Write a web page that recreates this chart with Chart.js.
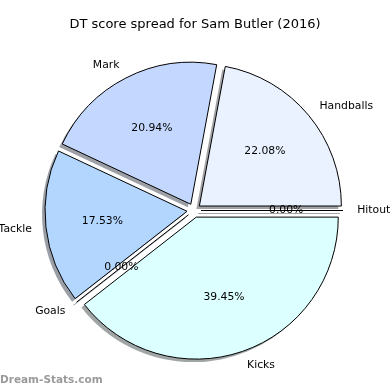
<!DOCTYPE html>
<html><head><meta charset="utf-8">
<script src="https://cdn.jsdelivr.net/npm/chart.js@4/dist/chart.umd.min.js"></script>
<style>html,body{margin:0;padding:0;background:#fff}canvas{display:block}</style>
</head><body>
<canvas id="c" width="390" height="390"></canvas>
<script>
// Data (matplotlib order: counter-clockwise from 3 o'clock)
const categories = ['Handballs', 'Mark', 'Tackle', 'Goals', 'Kicks', 'Hitout'];
const values = [22.08, 20.94, 17.53, 0.00, 39.45, 0.00];
const colours = ['#eaf1ff', '#c4d8ff', '#b3d6ff', '#b3d6ff', '#dcffff', '#eaf1ff'];
const titleText = 'DT score spread for Sam Butler (2016)';
const watermarkText = 'Dream-Stats.com';

const EXPLODE = 7, SHADOW_DX = -3, SHADOW_DY = 3;
const FONT = '10.8px "DejaVu Sans"';

// Chart.js draws clockwise, so reverse the order
const idx = categories.map((_, i) => i).reverse();
const cjLabels = idx.map(i => categories[i]);
const cjValues = idx.map(i => values[i]);
const cjColours = idx.map(i => colours[i]);

function shadowColour(hex) {
  const h = hex.replace('#', '');
  const r = parseInt(h.substr(0, 2), 16), g = parseInt(h.substr(2, 2), 16), b = parseInt(h.substr(4, 2), 16);
  return `rgba(${Math.round(r * 0.3)},${Math.round(g * 0.3)},${Math.round(b * 0.3)},0.5)`;
}

const mplPie = {
  id: 'mplPie',
  beforeDatasetsDraw(chart) {
    const ctx = chart.ctx;
    const meta = chart.getDatasetMeta(0);
    ctx.save();
    meta.data.forEach((arc) => {
      const { x, y, startAngle, endAngle, outerRadius } = arc.getProps(['x', 'y', 'startAngle', 'endAngle', 'outerRadius'], true);
      const mid = (startAngle + endAngle) / 2;
      const ox = x + Math.cos(mid) * EXPLODE + SHADOW_DX;
      const oy = y + Math.sin(mid) * EXPLODE + SHADOW_DY;
      const col = shadowColour(arc.options.backgroundColor);
      ctx.fillStyle = col; ctx.strokeStyle = col; ctx.lineWidth = 1;
      ctx.beginPath();
      if (endAngle - startAngle > 1e-9) {
        ctx.moveTo(ox, oy);
        ctx.arc(ox, oy, outerRadius, startAngle, endAngle);
        ctx.closePath();
        ctx.fill();
      } else {
        ctx.moveTo(ox, oy);
        ctx.lineTo(ox + Math.cos(mid) * outerRadius, oy + Math.sin(mid) * outerRadius);
        ctx.stroke();
      }
    });
    ctx.restore();
  },
  beforeDatasetDraw(chart) {
    const meta = chart.getDatasetMeta(0);
    meta.data.forEach((el) => {
      if (el._mplWrapped) return;
      const orig = el.draw;
      el.draw = function (ctx, area) {
        const mid = (this.startAngle + this.endAngle) / 2;
        ctx.save();
        ctx.translate(Math.cos(mid) * EXPLODE, Math.sin(mid) * EXPLODE);
        orig.call(this, ctx, area);
        ctx.restore();
      };
      el._mplWrapped = true;
    });
  },
  afterDatasetsDraw(chart) {
    const ctx = chart.ctx;
    const meta = chart.getDatasetMeta(0);
    const data = chart.data.datasets[0].data;
    const labels = chart.data.labels;
    ctx.save();
    meta.data.forEach((arc, i) => {
      const { x, y, startAngle, endAngle, outerRadius } = arc.getProps(['x', 'y', 'startAngle', 'endAngle', 'outerRadius'], true);
      const mid = (startAngle + endAngle) / 2;
      const cx = x + Math.cos(mid) * EXPLODE, cy = y + Math.sin(mid) * EXPLODE;
      if (endAngle - startAngle <= 1e-9) {
        ctx.strokeStyle = '#000'; ctx.lineWidth = 1;
        ctx.beginPath();
        ctx.moveTo(cx, cy);
        ctx.lineTo(cx + Math.cos(mid) * outerRadius, cy + Math.sin(mid) * outerRadius);
        ctx.stroke();
      }
      ctx.font = FONT; ctx.fillStyle = '#000'; ctx.textBaseline = 'middle';
      // name label
      const lx = cx + Math.cos(mid) * outerRadius * 1.1, ly = cy + Math.sin(mid) * outerRadius * 1.1;
      ctx.textAlign = Math.cos(mid) >= 0 ? 'left' : 'right';
      ctx.fillText(labels[i], lx, ly);
      // percent label
      const px = cx + Math.cos(mid) * outerRadius * 0.6, py = cy + Math.sin(mid) * outerRadius * 0.6;
      ctx.textAlign = 'center';
      ctx.fillText(data[i].toFixed(2) + '%', px, py);
    });
    ctx.restore();
  },
  afterDraw(chart) {
    const ctx = chart.ctx;
    ctx.save();
    ctx.fillStyle = '#000';
    ctx.font = '13px "DejaVu Sans"';
    ctx.textAlign = 'center'; ctx.textBaseline = 'middle';
    ctx.fillText(titleText, 195, 25);
    ctx.fillStyle = '#9a9a9a';
    ctx.font = 'bold 10.5px "DejaVu Sans"';
    ctx.textAlign = 'left';
    ctx.fillText(watermarkText, 0, 380);
    ctx.restore();
  }
};

new Chart(document.getElementById('c'), {
  type: 'pie',
  data: {
    labels: cjLabels,
    datasets: [{
      data: cjValues,
      backgroundColor: cjColours,
      borderColor: '#000',
      borderWidth: 1,
      radius: 142
    }]
  },
  options: {
    responsive: false,
    devicePixelRatio: 1,
    animation: false,
    rotation: 90,
    layout: { padding: { left: 9, right: 11, top: 42, bottom: 11 } },
    plugins: { legend: { display: false }, title: { display: false }, tooltip: { enabled: false } },
    events: []
  },
  plugins: [mplPie]
});
</script>
</body></html>
